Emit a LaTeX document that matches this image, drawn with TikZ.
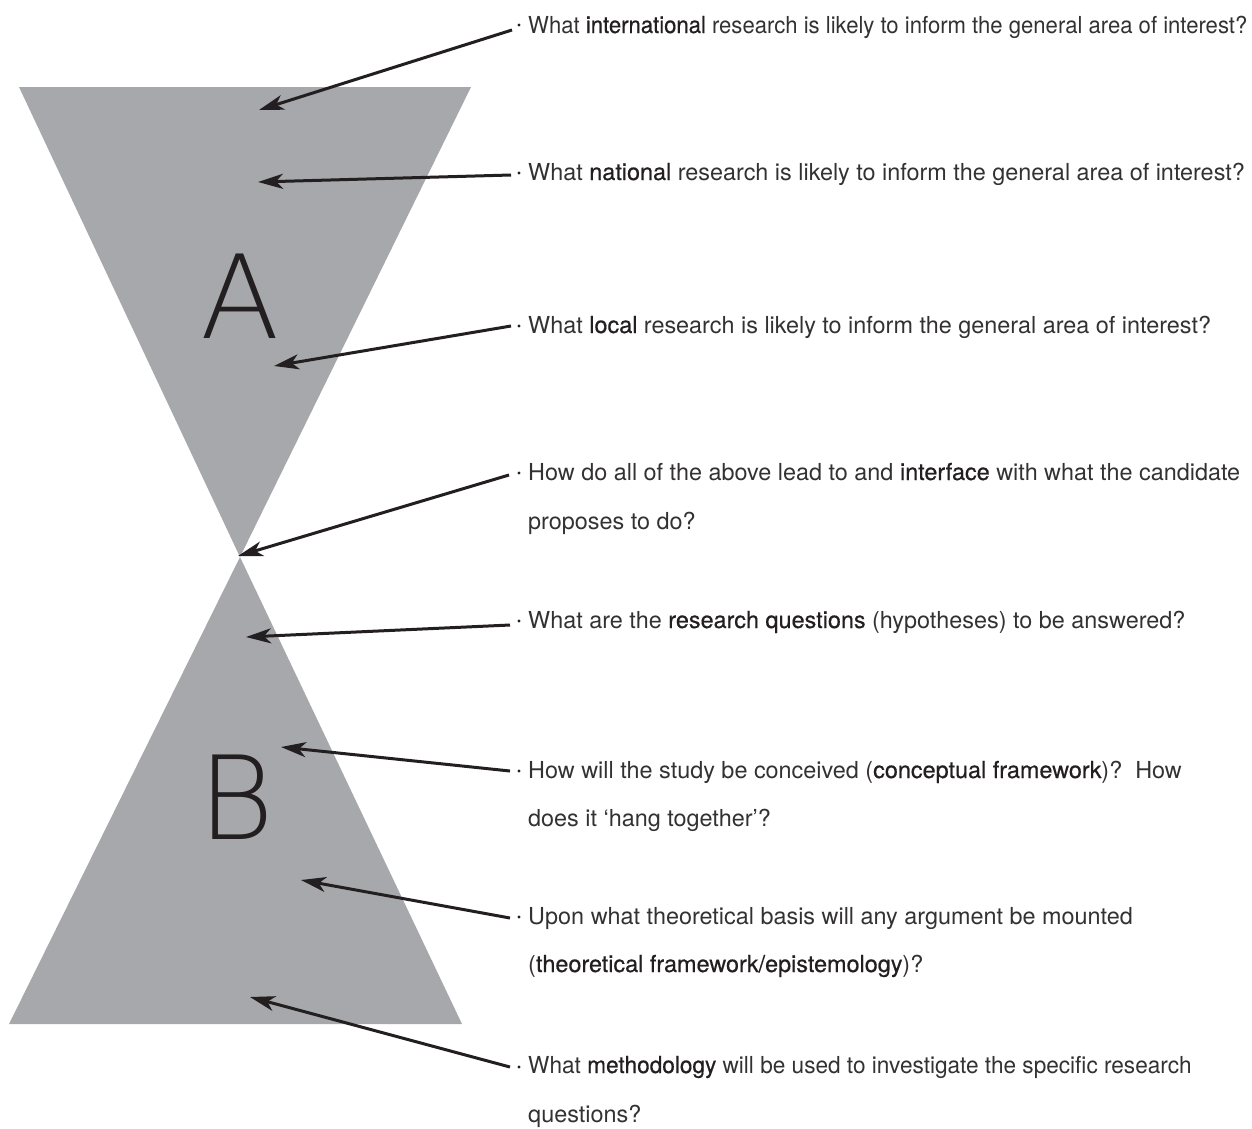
\documentclass[tikz,border=0pt]{standalone}
\usepackage{fontspec}
\usepackage{graphicx}
\setmainfont{TeX Gyre Heros}
\newfontfamily\medfont{TeX Gyre Heros}[FakeBold=0.5]
\IfFontExistsTF{DejaVu Sans ExtraLight}
  {\newfontfamily\thinfont{DejaVu Sans ExtraLight}}
  {\IfFontExistsTF{DejaVuSans-ExtraLight.ttf}
    {\newfontfamily\thinfont{DejaVuSans-ExtraLight.ttf}}
    {\newfontfamily\thinfont{TeX Gyre Heros}}}
\usetikzlibrary{arrows.meta}
\definecolor{fillgray}{HTML}{A7A8AB}
\definecolor{ink}{HTML}{231F20}
\definecolor{lighttext}{HTML}{333132}
\newcommand{\kw}[1]{{\medfont\color{ink}#1}}
\newcommand{\squeeze}[2]{\scalebox{#1}[1]{#2}}
\tikzset{
  tri/.style={fill=fillgray, draw=none},
  txt/.style={anchor=base west, inner sep=0pt, font=\fontsize{23.4}{28}\selectfont, text=lighttext},
  arr/.style={draw=ink, line width=3pt, -{Stealth[length=25pt,width=15pt,inset=7pt]}},
  bigletter/.style={inner sep=0pt, font=\thinfont\fontsize{116}{116}\selectfont, text=ink},
  dot/.style={fill=ink}
}
\begin{document}
\begin{tikzpicture}[x=1pt,y=-1pt]
\useasboundingbox (0,0) rectangle (1252,1128);
% hourglass
\coordinate (apex) at (240,557);
\coordinate (tl) at (19,87);
\coordinate (tr) at (471,87);
\coordinate (bl) at (9,1024);
\coordinate (br) at (462,1024);
\fill[tri] (tl) -- (tr) -- (apex) -- cycle;
\fill[tri] (bl) -- (br) -- (apex) -- cycle;
% letters
\node[bigletter, anchor=base] (A) at (240,338) {A};
\node[bigletter, anchor=base west] (B) at (198,839) {B};
% texts
\node[txt] (l1) at (528,33) {\squeeze{0.944}{What \kw{international} research is likely to inform the general area of interest?}};
\node[txt] (l2) at (528,180) {What \kw{national} research is likely to inform the general area of interest?};
\node[txt] (l3) at (528,333) {What \kw{local} research is likely to inform the general area of interest?};
\node[txt] (l4) at (528,480) {How do all of the above lead to and \kw{interface} with what the candidate};
\node[txt] (l4b) at (528,529) {proposes to do?};
\node[txt] (l5) at (528,628) {What are the \kw{research questions} (hypotheses) to be answered?};
\node[txt] (l6) at (528,778) {How will the study be conceived (\kw{conceptual framework})?\ \ How};
\node[txt] (l6b) at (528,826) {does it ‘hang together’?};
\node[txt] (l7) at (528,924) {Upon what theoretical basis will any argument be mounted};
\node[txt] (l7b) at (528,972) {(\kw{theoretical framework/epistemology})?};
\node[txt] (l8) at (528,1073) {\squeeze{0.966}{What \kw{methodology} will be used to investigate the specific research}};
\node[txt] (l8b) at (528,1122) {questions?};
% bullets
\foreach \i/\y in {1/25,2/173,3/326,4/473,5/621,6/771,7/917,8/1067}{
  \coordinate (b\i) at (519,\y);
  \fill[dot] (b\i) circle (1.7pt);
}
% arrow starts and tips
\coordinate (s1) at (512,30);   \coordinate (t1) at (259,110);
\coordinate (s2) at (511,175);  \coordinate (t2) at (258,182);
\coordinate (s3) at (511,326);  \coordinate (t3) at (274,366);
\coordinate (s4) at (509,475);  \coordinate (t4) at (238,556);
\coordinate (s5) at (510,625);  \coordinate (t5) at (246,637);
\coordinate (s6) at (510,771);  \coordinate (t6) at (281,747);
\coordinate (s7) at (510,918);  \coordinate (t7) at (301,880);
\coordinate (s8) at (510,1067); \coordinate (t8) at (250,997);
\foreach \i in {1,...,8}{\draw[arr] (s\i) -- (t\i);}
\end{tikzpicture}
\end{document}
